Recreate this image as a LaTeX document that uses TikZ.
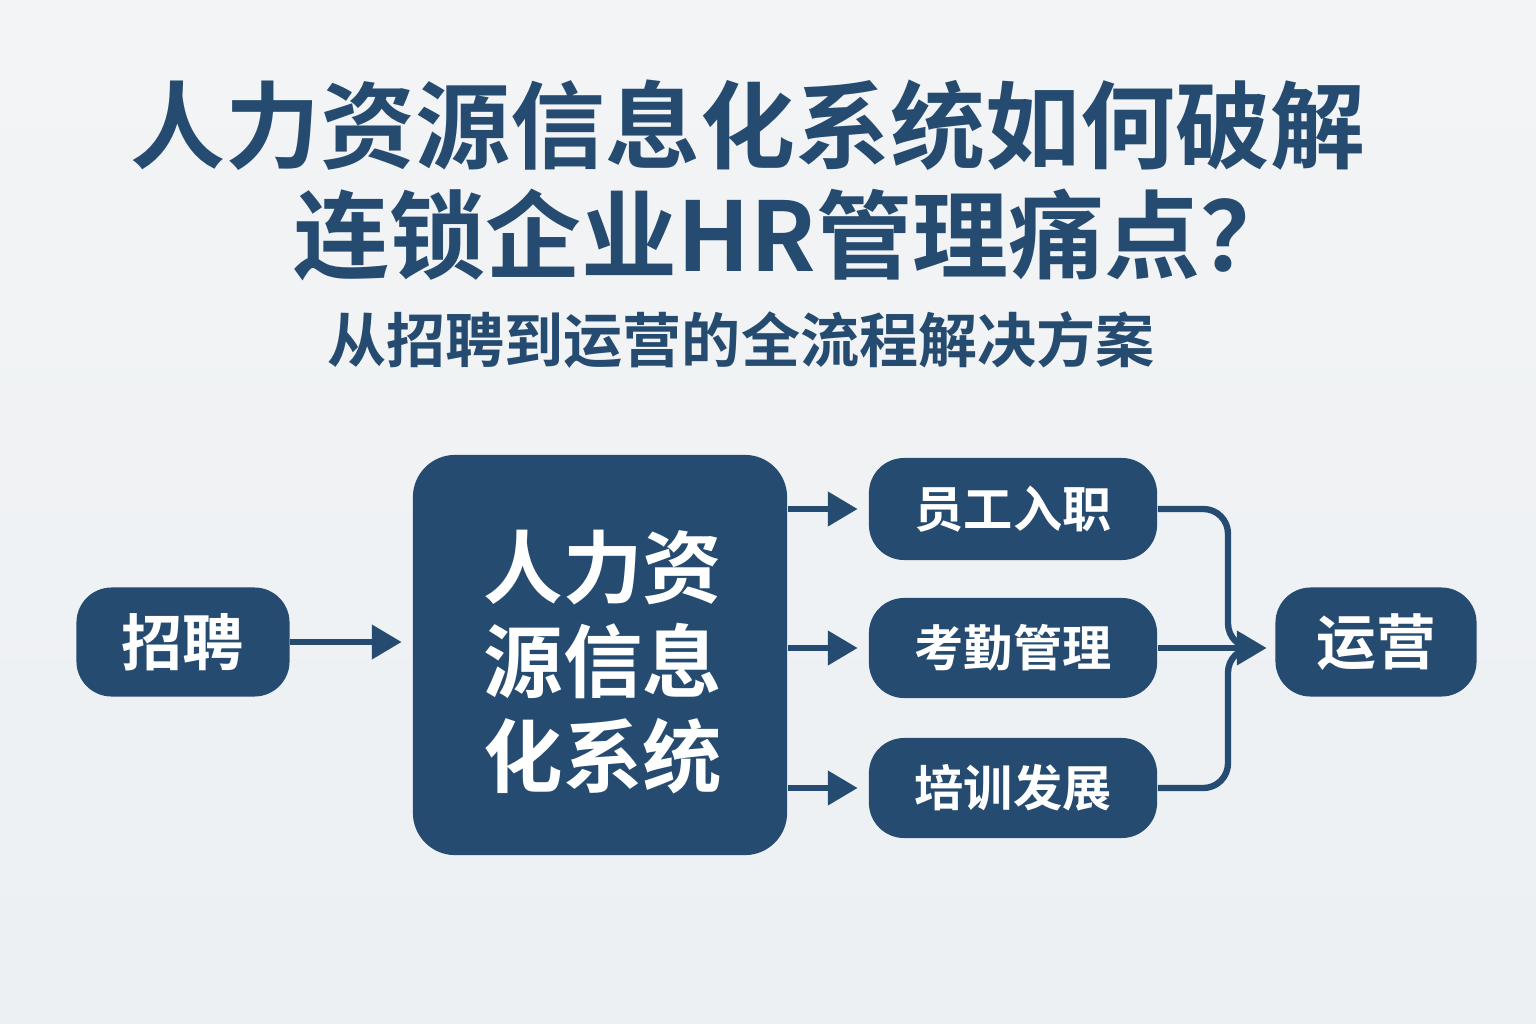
\documentclass[tikz,border=0pt]{standalone}
\usepackage{fontspec}
\setmainfont{Noto Sans CJK SC}[BoldFont={Noto Sans CJK SC Bold}]
\usepackage{tikz}
\usetikzlibrary{calc}
\usetikzlibrary{arrows.meta}
\definecolor{hrblue}{HTML}{264B70}
\definecolor{bgtop}{HTML}{F3F4F5}
\definecolor{bgbottom}{HTML}{ECF0F3}
\tikzset{>={Triangle[length=8.5pt,width=9.5pt]}}
\tikzset{box/.style = {fill=hrblue,text=white,rounded corners=10pt,inner sep=0pt,font=\bfseries}}
\tikzset{flow/.style = {->,draw=hrblue,line width=1.8pt}}
\tikzset{mergeline/.style = {draw=hrblue,line width=1.8pt,rounded corners=7pt}}

\begin{document}
\begin{tikzpicture}[x=0.01cm,y=-0.01cm]
            % Canvas
            \shade[top color=bgtop,bottom color=bgbottom] (0,0) rectangle (1536,1024);
            \useasboundingbox (0,0) rectangle (1536,1024);

            % Titles
            \node[text=hrblue,font=\bfseries\fontsize{27}{30}\selectfont] (title1) at (748,125) {人力资源信息化系统如何破解};
            \node[text=hrblue,font=\bfseries\fontsize{27.3}{30}\selectfont] (title2) at (795,235) {连锁企业HR管理痛点？};
            \node[text=hrblue,font=\bfseries\fontsize{16.8}{20}\selectfont] (sub) at (741,340) {从招聘到运营的全流程解决方案};

            % Boxes
            \node[box,minimum width=2.13cm,minimum height=1.09cm,font=\bfseries\fontsize{17.4}{20}\selectfont] (recruit) at (183,642) {招聘};
            \node[box,minimum width=3.74cm,minimum height=4cm,rounded corners=12pt,align=center,font=\bfseries\fontsize{22.6}{26.8}\selectfont] (hris) at (600,655) {};
            \node[text=white,align=center,font=\bfseries\fontsize{22.6}{26.8}\selectfont] (hristext) at (603,662) {人力资\\源信息\\化系统};
            \node[box,minimum width=2.88cm,minimum height=1.02cm,font=\bfseries\fontsize{14}{16}\selectfont] (onboard) at (1013,509) {员工入职};
            \node[box,minimum width=2.88cm,minimum height=1.0cm,font=\bfseries\fontsize{14}{16}\selectfont] (attend) at (1013,648) {考勤管理};
            \node[box,minimum width=2.88cm,minimum height=1.0cm,font=\bfseries\fontsize{14}{16}\selectfont] (train) at (1013,788) {培训发展};
            \node[box,minimum width=2.01cm,minimum height=1.09cm,font=\bfseries\fontsize{17}{20}\selectfont] (ops) at (1376,642) {运营};
            \coordinate (merge) at (1228,648);

            % Edges
            \draw[flow,shorten >=3pt] (recruit.east) -- (recruit.east -| hris.west);
            \draw[flow,shorten >=3pt] (hris.east |- onboard.west) -- (onboard.west);
            \draw[flow,shorten >=3pt] (hris.east |- attend.west) -- (attend.west);
            \draw[flow,shorten >=3pt] (hris.east |- train.west) -- (train.west);

            % joins
            \draw[mergeline] (onboard.east) -| (merge) -- ($(ops.west |- merge)+(-30,0)$);
            \draw[mergeline] (train.east) -| (merge) -- ($(ops.west |- merge)+(-30,0)$);
            \draw[flow,shorten >=2.3pt] (attend.east) -- (attend.east -| ops.west);
\end{tikzpicture}
\end{document}
